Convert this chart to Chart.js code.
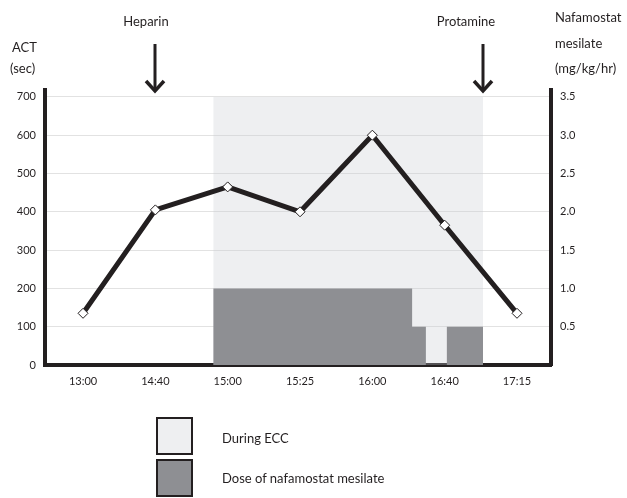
<!DOCTYPE html>
<html lang="en">
<head>
    <meta charset="UTF-8">
    <title>ACT and nafamostat mesilate during ECC</title>
    <style>
        body {
            margin: 0;
            background: #fff;
            font-family: Lato, Arial, sans-serif;
            color: #231f20;
        }
        #wrap {
            position: relative;
            width: 627px;
            height: 498px;
        }
        #chart {
            position: absolute;
            left: 0;
            top: 0;
        }
        .lbl {
            position: absolute;
            font-size: 13px;
            line-height: 13px;
            white-space: nowrap;
        }
        .box {
            position: absolute;
            left: 156px;
            width: 37px;
            height: 38px;
            box-sizing: border-box;
            border: 2px solid #231f20;
        }
    </style>
    <script src="https://cdn.jsdelivr.net/npm/chart.js"></script>
</head>
<body>
<div id="wrap">
    <canvas id="chart" width="627" height="498"></canvas>

    <!-- axis titles -->
    <div class="lbl" style="left:12px; top:41px;">ACT</div>
    <div class="lbl" style="left:10px; top:62px;">(sec)</div>
    <div class="lbl" style="left:555px; top:11px;">Nafamostat</div>
    <div class="lbl" style="left:555px; top:37px;">mesilate</div>
    <div class="lbl" style="left:555px; top:62px;">(mg/kg/hr)</div>

    <!-- legend -->
    <div class="box" style="top:417px; background:#eeeff1;"></div>
    <div class="box" style="top:459px; background:#8e8f93;"></div>
    <div class="lbl" style="left:222px; top:432px;">During ECC</div>
    <div class="lbl" style="left:222px; top:472px;">Dose of nafamostat mesilate</div>
</div>

<script>
    // time points (plotted evenly, one slot per sample)
    const timeLabels = ['13:00', '14:40', '15:00', '15:25', '16:00', '16:40', '17:15'];
    const actValues = [135, 405, 465, 400, 600, 365, 135];

    // ECC period, in time-slot units
    const eccPeriod = [1.8, 5.53];
    const eccTop = 700;

    // nafamostat dose steps (slot position where each dose starts, mg/kg/hr)
    const doseAt = [1.8, 4.55, 4.74, 5.03, 5.53];
    const doseValues = [1.0, 0.5, 0, 0.5, 0];

    // drug given, marked by arrows above the plot
    const drugNames = ['Heparin', 'Protamine'];
    const drugAt = [1, 5.53];

    const ink = '#231f20';

    const arrowPlugin = {
        id: 'drugArrows',
        afterDraw(chart) {
            const ctx = chart.ctx;
            const xs = chart.scales.x;
            const shift = [-9, -17];
            ctx.save();
            ctx.strokeStyle = ink;
            ctx.fillStyle = ink;
            drugNames.forEach((name, i) => {
                const x = Math.round(xs.getPixelForValue(drugAt[i]));
                ctx.lineWidth = 3;
                ctx.beginPath();
                ctx.moveTo(x, 44);
                ctx.lineTo(x, 89);
                ctx.stroke();
                ctx.lineWidth = 3.5;
                ctx.lineJoin = 'miter';
                ctx.beginPath();
                ctx.moveTo(x - 9, 81);
                ctx.lineTo(x, 91);
                ctx.lineTo(x + 9, 81);
                ctx.stroke();
                ctx.font = '13px Lato, Arial, sans-serif';
                ctx.textAlign = 'center';
                ctx.textBaseline = 'middle';
                ctx.fillText(name, x + shift[i], 22);
            });
            ctx.restore();
        }
    };

    const tickFont = { family: 'Lato, Arial, sans-serif', size: 11 };

    new Chart(document.getElementById('chart'), {
        type: 'line',
        data: {
            datasets: [
                {
                    label: 'ACT',
                    yAxisID: 'y',
                    data: actValues.map((v, i) => ({ x: i, y: v })),
                    borderColor: ink,
                    borderWidth: 5,
                    pointStyle: 'rectRot',
                    pointRadius: 5,
                    pointBackgroundColor: '#fff',
                    pointBorderColor: ink,
                    pointBorderWidth: 1,
                    fill: false
                },
                {
                    label: 'Dose of nafamostat mesilate',
                    yAxisID: 'y2',
                    data: doseAt.map((x, i) => ({ x: x, y: doseValues[i] })),
                    stepped: 'before',
                    borderWidth: 0,
                    borderColor: 'rgba(0,0,0,0)',
                    pointRadius: 0,
                    fill: 'origin',
                    backgroundColor: '#8e8f93'
                },
                {
                    label: 'During ECC',
                    yAxisID: 'y',
                    data: eccPeriod.map(x => ({ x: x, y: eccTop })),
                    borderWidth: 0,
                    borderColor: 'rgba(0,0,0,0)',
                    pointRadius: 0,
                    fill: 'origin',
                    backgroundColor: 'rgba(200,203,210,0.3)'
                }
            ]
        },
        options: {
            responsive: false,
            animation: false,
            layout: { padding: { top: 90, left: 0, right: 0, bottom: 0 } },
            plugins: {
                legend: { display: false },
                tooltip: { enabled: false }
            },
            scales: {
                x: {
                    type: 'linear',
                    min: -0.526,
                    max: 6.47,
                    afterFit: s => { s.height = 133; },
                    grid: { display: false, drawTicks: false },
                    border: { color: ink, width: 4 },
                    ticks: {
                        stepSize: 1,
                        includeBounds: false,
                        autoSkip: false,
                        maxRotation: 0,
                        padding: 10,
                        color: ink,
                        font: tickFont,
                        callback: v => Number.isInteger(v) && timeLabels[v] ? timeLabels[v] : ''
                    }
                },
                y: {
                    position: 'left',
                    min: 0,
                    max: 718,
                    afterFit: s => { s.width = 45; },
                    grid: {
                        drawTicks: false,
                        color: ctx => ctx.tick && ctx.tick.value % 100 === 0 ? '#e2e2e2' : 'rgba(0,0,0,0)',
                        lineWidth: 1
                    },
                    border: { color: ink, width: 4 },
                    ticks: {
                        stepSize: 100,
                        includeBounds: false,
                        padding: 9,
                        color: ink,
                        font: tickFont
                    }
                },
                y2: {
                    position: 'right',
                    min: 0,
                    max: 3.59,
                    afterFit: s => { s.width = 76; },
                    grid: { display: false, drawTicks: false },
                    border: { color: ink, width: 4 },
                    ticks: {
                        stepSize: 0.5,
                        includeBounds: false,
                        padding: 9,
                        color: ink,
                        font: tickFont,
                        callback: v => v === 0 ? '' : Number(v).toFixed(1)
                    }
                }
            }
        },
        plugins: [arrowPlugin]
    });
</script>
</body>
</html>
